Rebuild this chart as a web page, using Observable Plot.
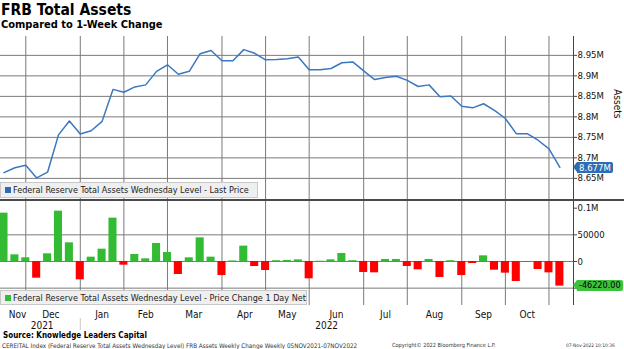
<!DOCTYPE html>
<html><head><meta charset="utf-8">
<script src="https://cdn.jsdelivr.net/npm/d3@7"></script>
<script src="https://cdn.jsdelivr.net/npm/@observablehq/plot@0.6"></script>
<style>
body{margin:0;background:#fff;}
#root{position:relative;width:624px;height:349px;overflow:hidden;font-family:"DejaVu Sans Condensed","DejaVu Sans",sans-serif;color:#000;}
.abs{position:absolute;white-space:nowrap;}
.legend{position:absolute;background:#efefef;border:1px solid #c8c8c8;box-sizing:border-box;font-size:9px;color:#222;line-height:14px;padding-left:12px;white-space:nowrap;}
.legend i{position:absolute;left:4px;top:4px;width:6px;height:6px;}
.tag{position:absolute;height:11px;line-height:11px;font-size:9.5px;padding:0 2px 0 2px;box-sizing:border-box;white-space:nowrap;border-radius:0 2px 2px 0;}
.tag:before{content:"";position:absolute;left:-4px;top:0;border-top:5.5px solid transparent;border-bottom:5.5px solid transparent;border-right:4px solid var(--c);}
</style></head><body><div id="root"></div>
<script>
// ---- data (weekly, Federal Reserve total assets) ----
const weekIndex = d3.range(52);
const assets = [8.664, 8.676, 8.682, 8.651, 8.665, 8.756, 8.790, 8.758, 8.766, 8.789,
  8.867, 8.860, 8.873, 8.878, 8.911, 8.927, 8.904, 8.911, 8.954, 8.962,
  8.937, 8.937, 8.964, 8.955, 8.939, 8.940, 8.942, 8.946, 8.915, 8.915,
  8.918, 8.932, 8.934, 8.912, 8.891, 8.896, 8.899, 8.889, 8.874, 8.878,
  8.849, 8.851, 8.826, 8.822, 8.832, 8.816, 8.796, 8.759, 8.759, 8.743,
  8.722, 8.677];
const change = [90700, 12500, 6900, -31300, 14400, 94400, 35000, -34400, 8100, 23100,
  81300, -6900, 13100, 5000, 33800, 16900, -24400, 6900, 44400, 8100,
  -26300, 1000, 28800, -9400, -16900, 1500, 2000, 3100, -32500, 500,
  3100, 15000, 1500, -20600, -21300, 3800, 3800, -9400, -15600, 3800,
  -30000, 1500, -26300, -3800, 10600, -16300, -21900, -37500, -500, -15000,
  -21300, -46220];
// month boundaries (index of first week of month) and label positions
const monthGridIdx = [2, 7, 11, 15, 20, 24, 28, 33, 37, 42, 46, 50];
const monthLabelIdx = [1.25, 4.3, 9, 13, 17.4, 22.1, 26, 30.5, 35, 39.5, 44, 48];
const monthLabels = ["Nov", "Dec", "Jan", "Feb", "Mar", "Apr", "May", "Jun", "Jul", "Aug", "Sep", "Oct"];
const yearLabelIdx = [3.5, 29.6];
const yearLabels = ["2021", "2022"];
const topTicks = [8.65, 8.7, 8.75, 8.8, 8.85, 8.9, 8.95];
const topTickLabels = ["8.65M", "8.7M", "8.75M", "8.8M", "8.85M", "8.9M", "8.95M"];
const botTicks = [100000, 50000, 0, -50000];
const botTickLabels = ["0.1M", "50000", "0", ""];
const botGrid = [50000, 0, -50000];

const title = "FRB Total Assets";
const subtitle = "Compared to 1-Week Change";
const legendTop = "Federal Reserve Total Assets Wednesday Level - Last Price";
const legendBot = "Federal Reserve Total Assets Wednesday Level - Price Change 1 Day Net";
const source = "Source: Knowledge Leaders Capital";
const footL = "CEREITAL Index (Federal Reserve Total Assets Wednesday Level) FRB Assets Weekly Change  Weekly 05NOV2021-07NOV2022";
const footM = "Copyright\u00A9 2022 Bloomberg Finance L.P.";
const footR = "07-Nov-2022 10:10:36";

// ---- styles ----
const FONT = '"DejaVu Sans Condensed","DejaVu Sans",sans-serif';
const BLUE = "#3a78c0", GREEN = "#33bb33", RED = "#ff0000", GRID = "#7a7a7a", AXIS = "#444";
const xDomain = [-0.32, 52.25];

const data = weekIndex.map(i => ({i, a: assets[i], c: change[i]}));
const root = document.getElementById("root");

function addDiv(cls, text, css) {
  const d = document.createElement("div");
  d.className = cls;
  d.textContent = text;
  Object.assign(d.style, css);
  root.appendChild(d);
  return d;
}

addDiv("abs", title, {left: "1px", top: "1px", fontSize: "15.5px", fontWeight: "bold", lineHeight: "18px"});
addDiv("abs", subtitle, {left: "1px", top: "18px", fontSize: "11px", fontWeight: "bold", lineHeight: "14px"});

const topChart = Plot.plot({
  width: 624, height: 164,
  marginTop: 0, marginBottom: 0, marginLeft: 0, marginRight: 51,
  x: {domain: xDomain, axis: null},
  y: {domain: [8.596, 8.996], axis: null},
  style: {fontFamily: FONT, fontSize: "9.5px", color: "#111", background: "transparent", overflow: "visible"},
  marks: [
    Plot.ruleY(topTicks, {stroke: GRID, strokeWidth: 1}),
    Plot.ruleX(monthGridIdx, {stroke: GRID, strokeWidth: 1}),
    Plot.ruleX([xDomain[1]], {stroke: AXIS, strokeWidth: 1}),
    Plot.axisY(topTicks, {anchor: "right", tickSize: 3, tickPadding: 1, stroke: AXIS,
      tickFormat: d => topTickLabels[topTicks.indexOf(d)], label: null}),
    Plot.lineY(data, {x: "i", y: "a", stroke: BLUE, strokeWidth: 1.5}),
    Plot.text(["Assets"], {frameAnchor: "right", dx: 44, rotate: 90, fontSize: 10, fill: "#111"})
  ]
});
Object.assign(topChart.style, {position: "absolute", left: "0px", top: "36px"});
root.appendChild(topChart);

const botChart = Plot.plot({
  width: 624, height: 136,
  marginTop: 0, marginBottom: 31, marginLeft: 0, marginRight: 51,
  x: {domain: xDomain, axis: null},
  y: {domain: [-82550, 114400], axis: null},
  color: {type: "identity"},
  style: {fontFamily: FONT, fontSize: "9.5px", color: "#111", background: "transparent", overflow: "visible"},
  marks: [
    Plot.ruleY(botGrid, {stroke: GRID, strokeWidth: 1}),
    Plot.ruleX(monthGridIdx, {stroke: GRID, strokeWidth: 1}),
    Plot.rect(data, {x1: d => d.i - 0.37, x2: d => d.i + 0.37, y1: 0, y2: "c",
      fill: d => d.c >= 0 ? GREEN : RED}),
    Plot.ruleX([xDomain[1]], {stroke: AXIS, strokeWidth: 1}),
    Plot.axisY(botTicks, {anchor: "right", tickSize: 3, tickPadding: 1, stroke: AXIS,
      tickFormat: d => botTickLabels[botTicks.indexOf(d)], label: null}),
    Plot.axisX(monthLabelIdx, {anchor: "bottom", tickSize: 0, tickPadding: 5, fontSize: 10,
      tickFormat: d => monthLabels[monthLabelIdx.indexOf(d)], label: null}),
    Plot.axisX(yearLabelIdx, {anchor: "bottom", tickSize: 0, tickPadding: 16, fontSize: 10,
      tickFormat: d => yearLabels[yearLabelIdx.indexOf(d)], label: null}),
    Plot.axisX([monthGridIdx[1]], {anchor: "bottom", tickSize: 12, tickPadding: 0, dy: 13, stroke: "#c8c8c8",
      tickFormat: () => "", label: null})
  ]
});
Object.assign(botChart.style, {position: "absolute", left: "0px", top: "200px"});
root.appendChild(botChart);

// panel separator
addDiv("abs", "", {left: "0px", top: "199px", width: "624px", height: "2px", background: "#4a4a4a"});

// legends
const lt = addDiv("legend", legendTop, {left: "0px", top: "182px", width: "258px", height: "16px"});
const lti = document.createElement("i"); lti.style.background = "#2d6cb5"; lt.appendChild(lti);
const lb = addDiv("legend", legendBot, {left: "0px", top: "290px", width: "307px", height: "15px"});
const lbi = document.createElement("i"); lbi.style.background = GREEN; lb.appendChild(lbi);

// last value tags positioned through the plot scales
const yTop = topChart.scale("y"), yBot = botChart.scale("y");
const lastA = assets[assets.length - 1], lastC = change[change.length - 1];
const t1 = addDiv("tag", lastA.toFixed(3) + "M", {left: "577px", top: (36 + yTop.apply(lastA) - 5) + "px",
  background: "#2e6db4", color: "#fff"});
t1.style.setProperty("--c", "#2e6db4");
const t2 = addDiv("tag", lastC.toFixed(2), {left: "577px", top: (200 + yBot.apply(lastC) - 5.5) + "px",
  background: "#3cc23c", color: "#000", fontSize: "9px"});
t2.style.setProperty("--c", "#3cc23c");

// footer
addDiv("abs", source, {left: "3px", top: "331px", fontSize: "8px", fontWeight: "bold", lineHeight: "10px"});
addDiv("abs", footL, {left: "2px", top: "342px", fontSize: "6.3px", lineHeight: "7px", color: "#333"});
addDiv("abs", footM, {left: "392px", top: "342px", fontSize: "5.6px", lineHeight: "7px", color: "#333"});
addDiv("abs", footR, {left: "566px", top: "342px", fontSize: "4.8px", lineHeight: "7px", color: "#333"});
</script></body></html>
